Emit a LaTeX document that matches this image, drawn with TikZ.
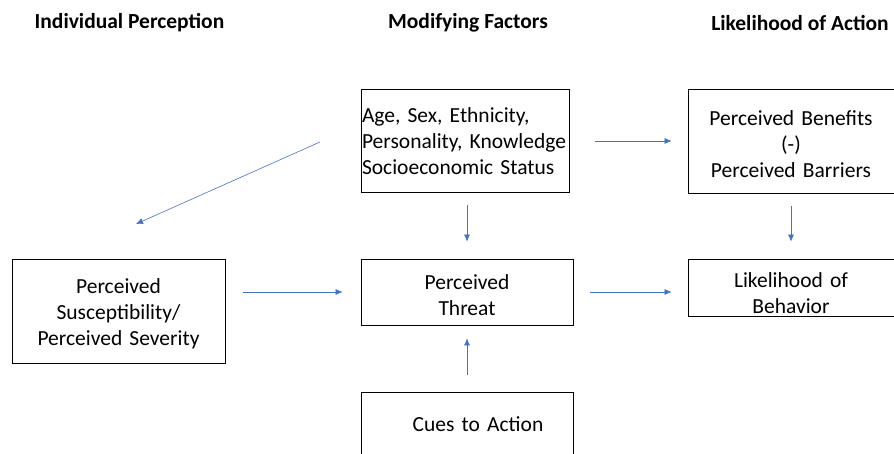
\documentclass[tikz,border=0pt]{standalone}
\usepackage{fontspec}
\setmainfont{Carlito}
\usetikzlibrary{arrows.meta}

\definecolor{flowblue}{RGB}{68,114,196}
\frenchspacing

\tikzset{
	box/.style = {draw, line width=0.8pt, inner sep=1pt, font=\fontsize{21.5}{26}\selectfont, align=center},
	head/.style = {font=\fontsize{21.5}{24}\selectfont\bfseries},
	flow/.style = {draw=flowblue, line width=0.6pt, -{Latex[length=7pt,width=6pt]}, shorten <=16pt, shorten >=16pt}
}

\begin{document}
\begin{tikzpicture}[x=1pt,y=-1pt]
				\useasboundingbox (0,0) rectangle (894,454);
				\clip (0,0) rectangle (894,454);
				\node[head] (hind) at (129.5,23) {Individual Perception};
				\node[head] (hmod) at (468,23) {Modifying Factors};
				\node[head] (hact) at (800,23) {Likelihood of Action};
				\node[box, minimum width=208pt, minimum height=103pt, text width=206pt, align=left] (modif) at (465,141) {Age, Sex, Ethnicity,\\Personality, Knowledge\\Socioeconomic Status};
				\node[box, minimum width=206pt, minimum height=104pt, text width=200pt] (benef) at (791,141) {\rule{0pt}{21pt}Perceived Benefits\\(-)\\Perceived Barriers};
				\node[box, minimum width=213pt, minimum height=104pt, text width=205pt] (suscep) at (118.5,311) {\rule{0pt}{20pt}Perceived\\Susceptibility/\\Perceived Severity};
				\node[box, minimum width=212pt, minimum height=66pt, text width=205pt] (threat) at (467,292) {\rule{0pt}{22pt}Perceived\\Threat};
				\node[box, minimum width=206pt, minimum height=57pt, text width=200pt] (likely) at (791,287.5) {\rule{0pt}{26pt}Likelihood of\\Behavior};
				\node[box, minimum width=212pt, minimum height=64pt, text width=205pt] (cues) at (467,424) {\hspace*{22pt}Cues to Action};
				\coordinate (diagA) at (320,142);
				\coordinate (diagB) at (136,224);
				\draw[flow, shorten <=0pt, shorten >=0pt] (diagA) -- (diagB);
				\draw[flow, shorten <=26pt] (modif.east) -- (benef.west);
				\draw[flow, shorten <=12pt, shorten >=17pt] (modif.south -| threat.north) -- (threat.north);
				\draw[flow, shorten <=13pt, shorten >=17pt] (benef.south) -- (likely.north);
				\draw[flow, shorten <=18pt, shorten >=18pt] (suscep.east |- threat.west) -- (threat.west);
				\draw[flow, shorten <=17pt] (threat.east) -- (likely.west |- threat.east);
				\draw[flow, shorten <=17pt, shorten >=13pt] (cues.north) -- (threat.south);
			\end{tikzpicture}
\end{document}
